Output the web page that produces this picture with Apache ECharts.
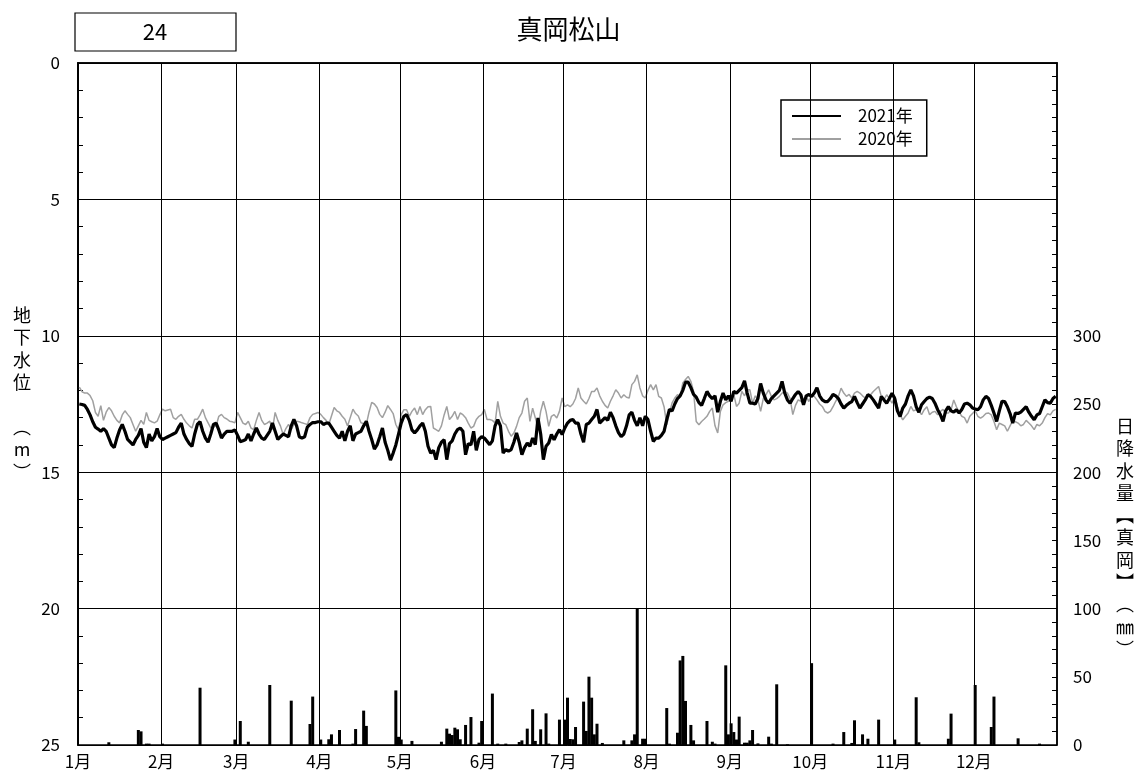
<!DOCTYPE html>
<html><head><meta charset="utf-8">
<script src="https://cdn.jsdelivr.net/npm/echarts@6/dist/echarts.min.js"></script>
<style>html,body{margin:0;padding:0;background:#fff}#c{width:1137px;height:778px}</style>
</head><body><div id="c"></div><script>
const titleText = '真岡松山';
const stationNo = '24';
const monthLabels = ['1月','2月','3月','4月','5月','6月','7月','8月','9月','10月','11月','12月'];
const monthStarts = [0,31,59,90,120,151,181,212,243,273,304,334];
const legendNames = ['2021年','2020年'];

// groundwater level (m below surface), daily, 2021
const gw2021 = [
12.5,12.52,12.55,12.7,12.9,13.15,13.35,13.42,13.5,13.4,13.5,13.75,14.0,14.1,13.75,13.45,13.25,13.5,13.8,13.9,14.0,13.8,13.65,13.4,13.9,14.1,13.6,13.85,13.7,13.4,13.7,
13.8,13.75,13.7,13.65,13.6,13.55,13.35,13.2,13.6,13.8,13.95,14.05,13.6,13.25,13.15,13.5,13.75,13.9,13.6,13.25,13.2,13.45,13.75,13.6,13.5,13.5,13.5,13.45,
13.65,13.88,13.85,13.8,13.6,13.85,13.6,13.38,13.6,13.75,13.8,13.65,13.5,13.2,13.5,13.8,13.7,13.6,13.65,13.7,13.3,13.06,13.3,13.7,13.75,13.7,13.35,13.25,13.18,13.18,13.15,
13.15,13.25,13.2,13.2,13.35,13.5,13.65,13.75,13.5,13.85,13.5,13.3,13.85,13.6,13.55,13.5,13.3,13.13,13.5,13.8,14.15,14.0,13.7,13.38,13.9,14.2,14.56,14.3,14.0,13.6,
13.2,12.95,12.89,13.1,13.45,13.56,13.45,13.3,13.2,13.5,14.05,14.3,14.2,14.54,14.1,13.9,13.81,14.54,13.95,13.85,13.6,13.44,13.38,13.5,14.36,13.95,14.0,13.5,14.2,13.8,13.7,
13.75,13.87,13.99,13.85,13.3,13.07,13.3,14.3,14.17,14.23,14.17,13.9,13.56,13.9,14.36,14.1,13.93,14.05,13.75,13.99,13.01,13.6,14.54,14.05,13.93,13.62,13.81,13.6,13.44,13.62,
13.38,13.2,13.1,13.07,13.2,13.2,13.6,13.9,13.25,13.2,13.07,12.95,12.7,13.2,13.1,13.0,13.1,12.8,13.0,13.3,13.55,13.7,13.6,13.3,12.9,12.8,13.1,13.3,13.0,13.3,12.95,
13.07,13.5,13.87,13.75,13.75,13.65,13.5,13.07,12.7,12.75,12.5,12.3,12.2,12.0,11.7,11.7,11.9,12.15,12.25,12.45,12.55,12.3,12.04,12.2,12.3,12.2,12.8,12.4,12.1,12.35,12.2,
12.4,12.04,12.1,12.0,11.9,11.65,12.1,12.47,12.47,12.5,12.3,11.75,12.1,12.35,12.47,12.3,12.2,12.1,12.0,11.67,12.1,12.35,12.47,12.3,12.15,12.04,12.16,12.53,12.2,12.15,
12.22,12.1,11.9,12.2,12.35,12.41,12.41,12.3,12.15,12.2,12.3,12.5,12.65,12.55,12.47,12.41,12.22,12.45,12.65,12.5,12.35,12.16,12.22,12.35,12.5,12.65,12.22,12.35,12.47,12.3,12.1,
12.3,12.75,12.96,12.65,12.5,12.2,11.98,12.2,12.6,12.8,12.53,12.41,12.3,12.25,12.3,12.47,12.71,12.89,13.14,12.75,12.6,12.75,12.8,12.71,12.83,12.7,12.5,12.47,12.53,12.65,
12.68,12.71,12.6,12.35,12.22,12.3,12.55,12.83,13.14,12.75,12.4,12.41,12.6,12.85,13.2,12.83,12.85,12.8,12.7,12.6,12.8,12.95,13.08,12.9,12.85,12.6,12.35,12.45,12.47,12.3,12.22
];

// groundwater level, daily, 2020
const gw2020 = [
11.88,12.05,12.1,12.1,12.19,12.38,12.81,12.95,12.56,13.1,12.8,12.63,12.75,12.95,13.1,13.19,12.9,12.75,12.88,13.0,13.25,13.5,13.3,13.1,13.25,12.81,13.1,13.15,13.19,13.13,12.9,
12.69,12.75,12.72,12.69,13.0,13.06,12.95,12.88,13.06,13.2,13.3,13.38,13.06,13.06,12.9,12.69,13.0,13.19,13.38,13.35,13.3,12.95,12.88,13.0,13.05,13.13,13.15,13.19,
12.81,13.0,13.2,13.25,13.13,13.38,13.44,13.1,12.81,13.1,13.25,13.2,13.13,13.44,12.81,13.1,13.31,13.63,13.4,13.25,13.44,13.25,13.13,13.15,13.19,13.22,13.25,13.0,12.88,12.85,12.81,
12.88,13.0,13.1,13.25,12.94,12.63,12.75,12.81,12.95,13.06,13.31,13.0,12.69,12.85,12.94,13.19,13.22,13.25,12.8,12.44,12.5,12.63,12.88,13.0,12.8,12.56,12.7,12.85,13.25,13.45,
12.89,12.71,12.71,12.95,12.77,12.65,12.89,12.59,12.89,12.71,12.6,12.59,13.38,13.44,13.5,13.3,12.9,12.59,13.07,12.95,12.77,13.07,12.83,12.89,13.0,13.2,13.38,13.32,13.07,12.95,12.89,
12.7,13.07,13.07,13.1,13.2,12.4,12.95,13.2,13.26,13.5,13.68,13.56,13.32,13.0,12.83,12.4,12.28,13.14,12.65,13.01,13.38,12.77,12.4,12.77,13.32,12.95,12.89,13.01,12.77,12.28,
12.6,12.53,12.6,12.5,12.3,11.91,12.28,12.4,12.5,12.3,12.04,12.04,11.91,12.2,12.4,12.55,12.65,12.4,12.2,11.98,12.1,12.28,12.16,12.25,12.28,11.79,11.67,11.43,11.91,12.2,12.28,
12.0,11.79,11.98,11.79,12.22,12.28,12.6,13.26,12.83,12.46,12.28,12.16,12.22,11.73,11.6,11.49,11.67,12.04,13.14,13.26,13.14,13.05,12.95,12.77,12.65,13.3,13.56,12.77,12.53,12.45,12.4,
12.3,12.15,12.59,12.47,12.04,12.2,11.98,11.98,12.47,12.2,12.35,12.77,12.3,12.16,11.98,12.22,12.35,12.3,12.22,12.1,12.04,12.1,12.3,12.89,12.55,12.35,12.4,12.47,12.22,12.41,
12.16,12.22,12.35,12.5,12.59,12.77,12.83,12.77,12.6,12.4,12.22,11.92,12.1,12.22,12.15,12.28,12.1,12.04,12.1,12.2,12.28,12.22,12.16,12.04,11.95,11.86,12.22,12.35,12.16,12.3,12.47,
12.22,12.59,12.9,13.08,12.95,12.83,12.59,12.75,12.71,12.75,12.89,12.71,12.6,12.89,12.8,12.77,12.9,12.77,12.7,12.83,12.83,12.71,12.35,12.6,12.8,12.95,13.0,13.2,12.95,12.85,
12.75,12.95,13.02,12.95,12.85,12.83,12.9,13.14,13.44,13.2,13.25,13.3,13.5,13.3,13.1,13.15,13.2,13.3,13.25,13.1,13.2,13.3,13.44,13.25,13.3,13.2,13.0,12.85,12.9,12.75,12.7
];

// daily precipitation (mm) — day of year and amount
const rainDays = [12,23,24,26,27,32,46,59,61,64,72,80,87,88,91,94,95,98,103,104,107,108,119,120,121,125,136,138,139,140,141,142,143,145,147,150,151,155,157,160,165,166,168,170,171,173,175,176,180,182,183,184,185,186,189,190,191,192,193,194,196,204,207,208,209,211,212,220,221,224,225,226,227,229,230,235,237,238,242,243,244,245,246,247,249,250,251,252,254,258,259,261,265,274,282,286,289,290,293,295,299,305,313,314,325,326,335,341,342,351,359];
const rainVals = [2,11,10,1,1,1,42,4,17.6,2.4,44,32.5,15.4,35.5,4,4.2,7.8,11,1,11.7,25.2,14,40,6,4,3,2.4,12,8.3,7.3,12.7,11.5,4.2,14.7,20.5,1.7,17.6,37.7,1,1,2.2,3.4,12,26.2,3,11.5,23.2,1,18.6,18.6,34.7,4.4,4.2,13.2,31.8,10.3,50.1,34.7,7.8,15.6,1.5,3.4,3.4,7.8,100,4.6,4.6,27.1,1,9,62,65.3,32.3,14.7,3.4,17.6,2.4,1,58.4,7.8,15.9,9.5,4,20.8,1.7,1.7,3.4,11,1.2,6.1,1,44.5,0.5,60,1,9.5,1.5,18.1,7.8,4.6,18.6,4,35,2,4.6,23,44,13.2,35.5,4.9,1];

const FONT = '"Noto Sans CJK JP", "Noto Sans", sans-serif';
const chart = echarts.init(document.getElementById('c'), null, {renderer: 'canvas'});

chart.setOption({
  animation: false,
  backgroundColor: '#fff',
  textStyle: {fontFamily: FONT, color: '#000'},
  title: {text: titleText, left: 'center', top: 11,
    textStyle: {fontFamily: FONT, fontSize: 26, fontWeight: 'normal', color: '#000'}},
  grid: {left: 78, right: 80, top: 63, bottom: 33, show: true, borderColor: '#000', borderWidth: 1.5},
  legend: {
    orient: 'vertical', left: 781, top: 100,
    backgroundColor: '#fff', borderColor: '#000', borderWidth: 1.5, borderRadius: 0,
    padding: [6, 14, 7, 10], itemWidth: 49, itemHeight: 14, itemGap: 3,
    itemStyle: {opacity: 0},
    textStyle: {fontFamily: FONT, fontSize: 17, color: '#000', lineHeight: 20, padding: [0, 0, 0, 12]},
    data: legendNames
  },
  xAxis: {
    type: 'value', min: 0, max: 365,
    axisLine: {show: true, lineStyle: {color: '#000', width: 1.5}},
    axisTick: {show: false},
    splitLine: {show: false},
    axisLabel: {customValues: monthStarts, fontFamily: FONT, fontSize: 17, color: '#000', margin: 8,
      formatter: v => { const i = monthStarts.indexOf(v); return i >= 0 ? monthLabels[i] : ''; }}
  },
  yAxis: [
    {type: 'value', inverse: true, min: 0, max: 25, interval: 5, position: 'left',
     axisLine: {show: true, lineStyle: {color: '#000', width: 2}},
     axisTick: {show: true, inside: true, length: 5, lineStyle: {color: '#000'}},
     minorTick: {show: true, splitNumber: 5, length: 5, lineStyle: {color: '#000'}},
     splitLine: {show: true, lineStyle: {color: '#000', width: 1}},
     axisLabel: {fontFamily: FONT, fontSize: 17, color: '#000', margin: 18}},
    {type: 'value', min: 0, max: 500, interval: 10, position: 'right',
     axisLine: {show: true, lineStyle: {color: '#000', width: 1.5}},
     axisTick: {show: true, inside: true, length: 5, lineStyle: {color: '#000'}},
     splitLine: {show: false},
     axisLabel: {fontFamily: FONT, fontSize: 17, color: '#000', margin: 16,
       formatter: v => (v % 50 === 0 && v <= 300) ? String(v) : ''}}
  ],
  series: [
    {name: 'rain', type: 'bar', yAxisIndex: 1, barWidth: 3, z: 2,
     itemStyle: {color: '#000'},
     data: rainDays.map((d, i) => [d - 0.5, rainVals[i]]),
     markLine: {silent: true, symbol: ['none', 'none'], label: {show: false},
       lineStyle: {color: '#000', width: 1, type: 'solid'},
       data: monthStarts.slice(1).map(v => ({xAxis: v}))}},
    {name: legendNames[1], type: 'line', yAxisIndex: 0, symbol: 'none', z: 3,
     lineStyle: {color: '#a0a0a0', width: 1.5}, itemStyle: {color: '#a0a0a0'},
     data: gw2020.map((v, i) => [i + 0.5, v])},
    {name: legendNames[0], type: 'line', yAxisIndex: 0, symbol: 'none', z: 4,
     lineStyle: {color: '#000', width: 3.2}, itemStyle: {color: '#000'},
     data: gw2021.map((v, i) => [i + 0.5, v])}
  ],
  graphic: [
    {type: 'rect', shape: {x: 75, y: 13, width: 161, height: 38},
     style: {fill: '#fff', stroke: '#000', lineWidth: 1.2}},
    {type: 'text', x: 155, y: 32, style: {text: stationNo, fontFamily: FONT, fontSize: 22,
     fill: '#000', align: 'center', verticalAlign: 'middle'}},
    {type: 'text', x: 22, y: 304, style: {text: '地\n下\n水\n位\n \n︵\nm\n︶', fontFamily: FONT,
     fontSize: 18, lineHeight: 22.4, fill: '#000', align: 'center', verticalAlign: 'top'}},
    {type: 'text', x: 1125, y: 415, style: {text: '日\n降\n水\n量\n︻\n真\n岡\n︼\n︵\n㎜\n︶', fontFamily: FONT,
     fontSize: 18, lineHeight: 22.3, fill: '#000', align: 'center', verticalAlign: 'top'}}
  ]
});
</script></body></html>
